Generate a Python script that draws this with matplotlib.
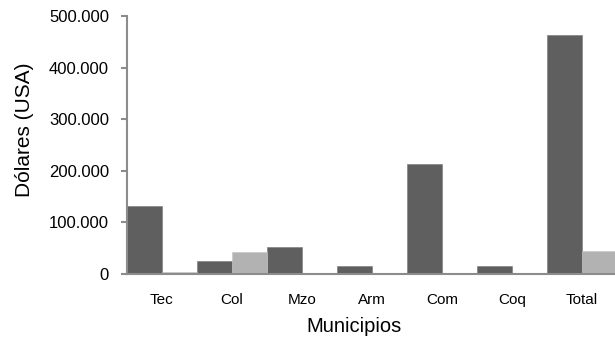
import matplotlib
matplotlib.use("Agg")
import matplotlib.pyplot as plt
import numpy as np
from matplotlib.ticker import FuncFormatter

plt.rcParams['font.family'] = ['Liberation Sans', 'DejaVu Sans']

municipios = ["Tec", "Col", "Mzo", "Arm", "Com", "Coq", "Total"]
serie_a = [132000, 25000, 52000, 15500, 213000, 15500, 463000]
serie_b = [3000, 42000, 0, 0, 0, 0, 45000]
y_ticks = [0, 100000, 200000, 300000, 400000, 500000]

dark = "#5f5f5f"
light = "#b2b2b2"
axis_gray = "#8c8c8c"

fig = plt.figure(figsize=(6.15, 3.52), dpi=100)
ax = fig.add_axes([127 / 615, 1 - 274 / 352, 490 / 615, 258 / 352])

x = np.arange(len(municipios))
w = 0.5
ax.bar(x - w / 2, serie_a, width=w, color=dark, edgecolor="#777777", linewidth=0.4, zorder=2)
ax.bar(x + w / 2, serie_b, width=w, color=light, edgecolor="#c4c4c4", linewidth=0.4, zorder=2)

ax.set_xlim(-0.5, len(municipios) - 0.5)
ax.set_ylim(0, 500000)
ax.set_yticks(y_ticks)
ax.yaxis.set_major_formatter(FuncFormatter(lambda v, p: f"{int(v):,}".replace(",", ".")))
ax.set_xticks(x)
ax.set_xticklabels(municipios)

for s in ["top", "right"]:
    ax.spines[s].set_visible(False)
for s in ["left", "bottom"]:
    ax.spines[s].set_color(axis_gray)
    ax.spines[s].set_linewidth(1.5)
    ax.spines[s].set_zorder(3)

ax.tick_params(axis="y", length=4, width=1.5, color=axis_gray, pad=9, labelsize=12, labelcolor="black")
ax.tick_params(axis="x", length=0, pad=14, labelsize=11, labelcolor="black")

ax.set_ylabel("Dólares (USA)", fontsize=15)
ax.yaxis.set_label_coords(-0.189, 0.558)
fig.text(354 / 615, 1 - 327 / 352, "Municipios", fontsize=14.5, ha="center", va="center")

fig.savefig("out.png", dpi=100)
